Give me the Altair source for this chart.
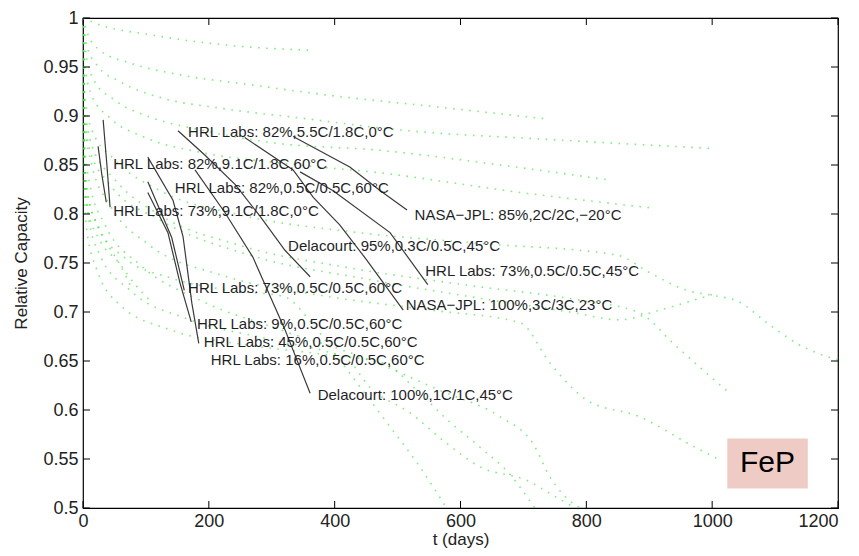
import altair as alt
import pandas as pd

# ---------------- data ----------------
x_ticks = [0, 200, 400, 600, 800, 1000, 1200]
y_ticks = [0.5, 0.55, 0.6, 0.65, 0.7, 0.75, 0.8, 0.85, 0.9, 0.95, 1.0]

# green dotted model curves (days, relative capacity)
g1_t = [0, 27, 106, 234, 364]
g1_c = [1, 0.993, 0.983, 0.972, 0.967]
g2_t = [0, 8, 27, 75, 154, 265, 393, 552, 737]
g2_c = [1, 0.983, 0.967, 0.954, 0.942, 0.932, 0.921, 0.910, 0.897]
g3_t = [0, 6, 22, 59, 122, 218, 345, 499, 742, 997]
g3_c = [1, 0.972, 0.952, 0.935, 0.919, 0.908, 0.898, 0.886, 0.876, 0.867]
g4_t = [0, 5, 17, 51, 106, 186, 297, 472, 663, 833]
g4_c = [1, 0.962, 0.937, 0.916, 0.899, 0.886, 0.873, 0.865, 0.850, 0.835]
g5_t = [0, 3, 14, 43, 99, 186, 313, 472, 695, 906]
g5_c = [1, 0.952, 0.921, 0.898, 0.878, 0.863, 0.852, 0.842, 0.822, 0.806]
g6_t = [0, 2, 14, 51, 122, 250, 424, 631, 849, 901, 960, 1001, 1044, 1087, 1140, 1200]
g6_c = [1, 0.927, 0.886, 0.855, 0.824, 0.799, 0.782, 0.770, 0.758, 0.740, 0.722, 0.717, 0.710, 0.689, 0.666, 0.651]
g7_t = [0, 2, 11, 43, 122, 265, 456, 631, 774, 853, 917, 965, 1001]
g7_c = [1, 0.906, 0.865, 0.830, 0.794, 0.758, 0.733, 0.714, 0.700, 0.692, 0.702, 0.711, 0.718]
g8_t = [0, 2, 14, 51, 122, 249, 424, 615, 790, 885, 938, 992, 1028]
g8_c = [1, 0.916, 0.870, 0.835, 0.799, 0.768, 0.745, 0.727, 0.712, 0.699, 0.668, 0.637, 0.617]
g9_t = [0, 2, 14, 43, 106, 218, 377, 552, 695, 742, 801, 885, 970, 1012]
g9_c = [1, 0.896, 0.850, 0.809, 0.768, 0.738, 0.717, 0.702, 0.689, 0.648, 0.610, 0.593, 0.563, 0.549]
g10_t = [0, 2, 11, 35, 91, 186, 313, 456, 567, 663, 715, 742, 769, 790]
g10_c = [1, 0.876, 0.830, 0.789, 0.748, 0.712, 0.682, 0.651, 0.620, 0.593, 0.566, 0.532, 0.510, 0.5]
g11_t = [0, 2, 8, 27, 75, 170, 297, 420, 456, 520, 578, 631, 706, 747, 782]
g11_c = [1, 0.845, 0.799, 0.758, 0.722, 0.692, 0.672, 0.651, 0.623, 0.597, 0.566, 0.542, 0.528, 0.513, 0.5]
g12_t = [0, 2, 6, 22, 59, 138, 265, 393, 477, 531, 579, 631, 679, 718]
g12_c = [1, 0.830, 0.784, 0.743, 0.707, 0.682, 0.666, 0.656, 0.648, 0.620, 0.590, 0.562, 0.534, 0.5]
g13_t = [0, 2, 8, 27, 67, 138, 234, 318, 366, 408, 448, 488, 531, 578]
g13_c = [1, 0.865, 0.819, 0.784, 0.755, 0.735, 0.722, 0.716, 0.687, 0.651, 0.617, 0.583, 0.546, 0.5]
g14_t = [0, 2, 6, 19, 40, 59, 79]
g14_c = [1, 0.865, 0.824, 0.794, 0.768, 0.748, 0.722]
g15_t = [0, 2, 8, 27, 56, 83, 106]
g15_c = [1, 0.845, 0.804, 0.773, 0.751, 0.728, 0.712]

# black measured data lines
b1_t = [32, 38, 43]
b1_c = [0.896, 0.850, 0.807]
b2_t = [24, 30, 37]
b2_c = [0.869, 0.840, 0.812]
b3_t = [103, 143, 159, 173, 184]
b3_c = [0.858, 0.814, 0.777, 0.709, 0.668]
b4_t = [103, 141, 161]
b4_c = [0.833, 0.776, 0.722]
b5_t = [103, 135, 154, 172]
b5_c = [0.822, 0.781, 0.730, 0.690]
b6_t = [178, 226, 270, 321, 361]
b6_c = [0.845, 0.801, 0.756, 0.682, 0.617]
b7_t = [151, 194, 242, 281, 321, 361]
b7_c = [0.885, 0.860, 0.830, 0.798, 0.763, 0.736]
b8_t = [257, 334, 366, 408, 451, 509]
b8_c = [0.878, 0.845, 0.817, 0.789, 0.753, 0.702]
b9_t = [334, 424, 472, 515]
b9_c = [0.879, 0.848, 0.824, 0.804]
b10_t = [345, 397, 488, 548]
b10_c = [0.843, 0.824, 0.781, 0.728]

# annotations
label_text = [
    "HRL Labs: 82%,5.5C/1.8C,0°C",
    "HRL Labs: 82%,9.1C/1.8C,60°C",
    "HRL Labs: 82%,0.5C/0.5C,60°C",
    "HRL Labs: 73%,9.1C/1.8C,0°C",
    "NASA\u2212JPL: 85%,2C/2C,\u221220°C",
    "Delacourt: 95%,0.3C/0.5C,45°C",
    "HRL Labs: 73%,0.5C/0.5C,45°C",
    "HRL Labs: 73%,0.5C/0.5C,60°C",
    "NASA\u2212JPL: 100%,3C/3C,23°C",
    "HRL Labs: 9%,0.5C/0.5C,60°C",
    "HRL Labs: 45%,0.5C/0.5C,60°C",
    "HRL Labs: 16%,0.5C/0.5C,60°C",
    "Delacourt: 100%,1C/1C,45°C",
]
label_t = [167, 48, 146, 48, 527, 326, 544, 167, 513, 181, 192, 203, 373]
label_c = [0.884, 0.851, 0.827, 0.803, 0.799, 0.767, 0.742, 0.725, 0.707, 0.688, 0.669, 0.651, 0.615]

# FeP box
fep_t = [1024]
fep_t2 = [1152]
fep_c = [0.520]
fep_c2 = [0.571]
fep_text = ["FeP"]

# ---------------- frames ----------------
def long_df(curves, prefix):
    rows = []
    for i, (ts, cs) in enumerate(curves):
        for j, (a, b) in enumerate(zip(ts, cs)):
            rows.append({"curve": f"{prefix}{i}", "t": a, "c": b, "o": j})
    return pd.DataFrame(rows)

green_df = long_df([(g1_t, g1_c), (g2_t, g2_c), (g3_t, g3_c), (g4_t, g4_c), (g5_t, g5_c),
                    (g6_t, g6_c), (g7_t, g7_c), (g8_t, g8_c), (g9_t, g9_c), (g10_t, g10_c),
                    (g11_t, g11_c), (g12_t, g12_c), (g13_t, g13_c), (g14_t, g14_c),
                    (g15_t, g15_c)], "g")
black_df = long_df([(b1_t, b1_c), (b2_t, b2_c), (b3_t, b3_c), (b4_t, b4_c), (b5_t, b5_c),
                    (b6_t, b6_c), (b7_t, b7_c), (b8_t, b8_c), (b9_t, b9_c), (b10_t, b10_c)], "b")
label_df = pd.DataFrame({"t": label_t, "c": label_c, "label": label_text})
fep_df = pd.DataFrame({"t": fep_t, "t2": fep_t2, "c": fep_c, "c2": fep_c2,
                       "tm": [(a + b) / 2 for a, b in zip(fep_t, fep_t2)],
                       "cm": [(a + b) / 2 for a, b in zip(fep_c, fep_c2)],
                       "txt": fep_text})
xt_df = pd.DataFrame({"t": x_ticks})
yt_df = pd.DataFrame({"c": y_ticks})

W, H = 755, 490
FONT = "Liberation Sans"

xs = alt.Scale(domain=[0, 1200], nice=False, zero=False)
ys = alt.Scale(domain=[0.5, 1.0], nice=False, zero=False)
x_axis = alt.Axis(values=x_ticks, format="d", title="t (days)", labelPadding=4,
                  titlePadding=1, labelFlush=False, labelOverlap=False,
                  labelAlign=alt.condition("datum.value == 1200",
                                           alt.value("right"), alt.value("center")))
y_axis = alt.Axis(values=y_ticks, format="~g", title="Relative Capacity", labelPadding=5,
                  titlePadding=12, labelFlush=False, labelOverlap=False)

X = alt.X("t:Q", scale=xs, axis=x_axis)
Y = alt.Y("c:Q", scale=ys, axis=y_axis)

green = alt.Chart(green_df).mark_line(
    color="#2ee02e", strokeWidth=1.6, strokeDash=[1.6, 6.5], opacity=0.6,
    clip=True, interpolate="monotone"
).encode(x=X, y=Y, detail="curve:N", order="o:Q")

black = alt.Chart(black_df).mark_line(
    color="#3a3a3a", strokeWidth=1.2, clip=True
).encode(x=X, y=Y, detail="curve:N", order="o:Q")

labels = alt.Chart(label_df).mark_text(
    align="left", baseline="middle", fontSize=15, font=FONT, color="#1f1f28"
).encode(x=X, y=Y, text="label:N")

fep_box = alt.Chart(fep_df).mark_rect(color="#efcbc6").encode(
    x=X, x2="t2:Q", y=Y, y2="c2:Q")
fep_lab = alt.Chart(fep_df).mark_text(
    fontSize=30, font=FONT, color="black", align="center", baseline="middle"
).encode(x=alt.X("tm:Q", scale=xs, axis=x_axis), y=alt.Y("cm:Q", scale=ys, axis=y_axis),
         text="txt:N")

tick_b = alt.Chart(xt_df).mark_rule(color="black", strokeWidth=1).encode(
    x=X, y=alt.value(H), y2=alt.value(H - 7))
tick_t = alt.Chart(xt_df).mark_rule(color="black", strokeWidth=1).encode(
    x=X, y=alt.value(0), y2=alt.value(7))
tick_l = alt.Chart(yt_df).mark_rule(color="black", strokeWidth=1).encode(
    y=Y, x=alt.value(0), x2=alt.value(7))
tick_r = alt.Chart(yt_df).mark_rule(color="black", strokeWidth=1).encode(
    y=Y, x=alt.value(W), x2=alt.value(W - 7))

chart = alt.layer(
    green, black, fep_box, fep_lab, labels, tick_b, tick_t, tick_l, tick_r
).properties(
    width=W, height=H,
    autosize=alt.AutoSizeParams(type="none"),
    padding={"left": 75, "top": 10, "right": 13, "bottom": 40},
).configure_view(
    stroke="black", strokeWidth=1.2
).configure_axis(
    domain=False, ticks=False, grid=False,
    labelFont=FONT, labelFontSize=18, labelColor="#222",
    titleFont=FONT, titleFontSize=17, titleFontWeight="normal", titleColor="#222",
)

chart.save("out.html", embed_options={"renderer": "svg", "actions": False})
